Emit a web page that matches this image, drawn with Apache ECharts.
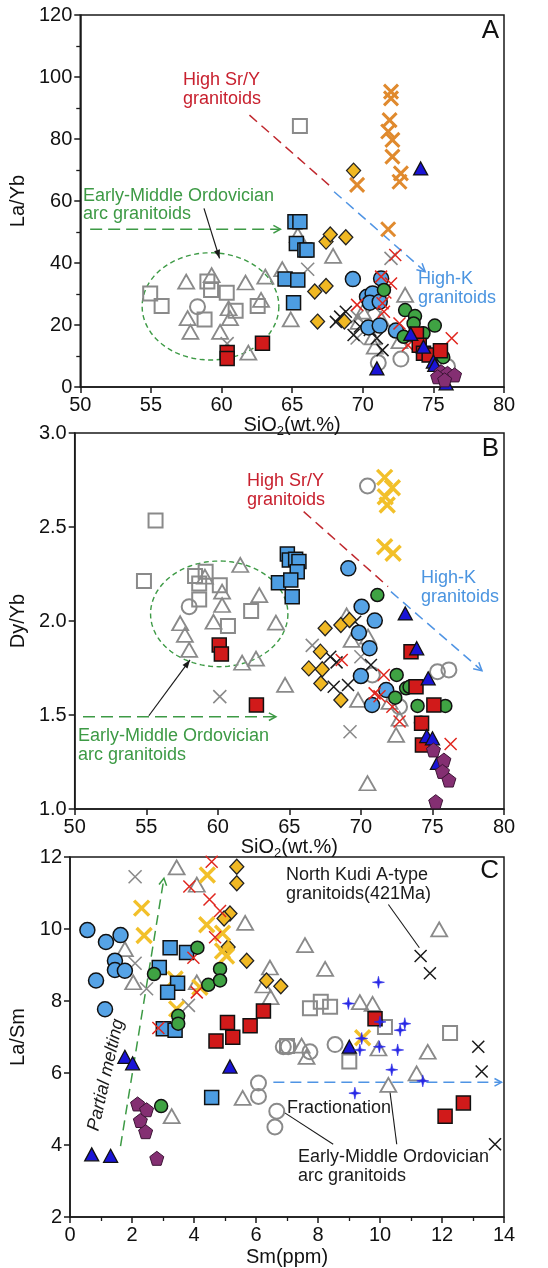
<!DOCTYPE html>
<html><head><meta charset="utf-8">
<script src="https://cdn.jsdelivr.net/npm/echarts@6/dist/echarts.min.js"></script>
<style>html,body{margin:0;padding:0;background:#fff}#c{width:548px;height:1268px}</style>
</head><body><div id="c"></div>
<script>
// ---------- Panel A : SiO2 vs La/Yb ----------
const A_grayTri = [[57.5,34],[59.3,36.1],[57.6,22.2],[57.8,17.8],[59.9,17.8],[60.5,25.4],[60.6,22.2],[61.7,33.7],[63.1,35.6],[62.8,28.1],[61.9,11.1],[64.3,38],[64.9,21.8],[65.4,49],[67.9,42.3],[70.0,24.3],[69.7,21],[70.85,13],[72.6,14.8],[73.0,29.7],[71.3,22],[70.7,16]];
const A_graySq = [[54.95,30.2],[55.76,26.1],[59.0,34.0],[59.26,31.3],[60.37,30.4],[58.8,21.8],[61.0,24.6],[62.56,26.1],[65.55,84.2]];
const A_grayCir = [[58.3,25.9],[71.1,7.8],[72.7,9.0],[76.0,6.6]];
const A_grayX = [[66.1,38],[72.0,41.5],[69.6,22.7],[60.4,14],[70.8,26],[69.6,15.8]];
const A_blackX = [[68.1,21],[68.4,22.7],[68.8,24.3],[69.35,16.8],[69.8,19.5],[71,15.7],[71.4,11.9],[70.5,18.4]];
const A_redX = [[72.3,42.6],[71.3,35.6],[72.0,33.4],[71.4,27],[71.5,24.3],[69.6,26.5],[72.6,20.5],[73.2,13.5],[76.3,15.7],[71.6,30.5]];
const A_orangeX = [[72.0,95.3],[72.0,93.1],[71.9,86.1],[71.8,82.4],[72.1,79.7],[72.1,74.3],[72.7,68.9],[72.6,66.2],[69.6,65.2],[71.8,50.9]];
const A_diamond = [[69.35,69.8],[67.4,46.9],[67.7,49.2],[68.8,48.3],[66.6,30.8],[67.4,32.6],[66.8,21.1],[68.7,21.1]];
const A_blueSq = [[65.2,53.3],[65.55,53.3],[65.3,46.3],[65.9,44.2],[66.05,44.2],[64.5,34.8],[65.4,34.5],[65.1,27.2]];
const A_blueCir = [[69.3,34.8],[71.3,35],[70.3,29.1],[70.7,30.2],[70.5,27.2],[71.2,27.5],[70.4,19.2],[71.2,19.8],[72.35,18.2]];
const A_greenCir = [[71.5,31.3],[73.0,24.8],[73.7,22.9],[73.6,20.5],[72.9,16.2],[74.3,17.3],[75.1,19.8],[75.7,9.6]];
const A_redSq = [[60.4,11.1],[60.4,9.2],[62.9,14.1],[73.8,17.1],[74.0,13.5],[74.3,10.9],[74.7,10.3],[75.5,11.7]];
const A_blueTri = [[74.1,70.5],[71.0,6],[73.4,17.1],[74.3,13],[75.0,8.2],[75.1,7.1],[75.9,1.2]];
const A_pent = [[75.55,4.9],[76.0,4.4],[75.3,3.3],[76.5,3.9],[75.8,2.3]];
// annotation geometry (data units): [x1,y1,x2,y2] / ellipse [cx,cy,rx,ry]
const A_srLine = [[61.98,87.7,67.74,64.6]];
const A_kLine = [[67.97,63.0,74.42,37.2]];
const A_greenArrow = [[50.7,50.9,64.17,50.9]];
const A_blackArrow = [[58.76,57.6,59.86,41.5]];
const A_ellipse = [[59.22,26,4.84,17.3]];

// ---------- Panel B : SiO2 vs Dy/Yb ----------
const B_grayTri = [[59.1,2.236],[61.57,2.298],[60.3,2.156],[60.3,2.085],[62.9,2.138],[57.37,1.988],[57.7,1.926],[58.0,1.846],[59.7,1.996],[61.7,1.778],[62.67,1.8],[64.06,1.991],[64.7,1.66],[69.0,2.03],[70.5,1.917],[69.35,1.9],[69.8,1.58],[72.46,1.394],[72.7,1.48],[70.46,1.137],[72.0,1.57]];
const B_graySq = [[54.84,2.213],[55.65,2.534],[58.41,2.239],[59.15,2.262],[58.7,2.2],[60.14,2.19],[58.7,2.115],[62.33,2.053],[60.71,1.973]];
const B_grayCir = [[58.0,2.076],[70.46,2.718],[70.8,1.713],[72.7,1.544],[75.35,1.73],[76.15,1.74]];
const B_grayX = [[66.6,1.87],[60.14,1.598],[69.24,1.411],[70.0,1.81]];
const B_blackX = [[69.6,1.996],[67.86,1.81],[70.7,1.766],[68.1,1.65],[69.1,1.66],[68.3,1.78]];
const B_redX = [[68.66,1.793],[71.6,1.713],[70.96,1.615],[71.3,1.6],[72.2,1.544],[72.7,1.465],[76.27,1.346]];
const B_yellowX = [[71.66,2.764],[72.2,2.709],[71.7,2.661],[71.84,2.617],[71.66,2.395],[72.25,2.36]];
const B_diamond = [[67.5,1.961],[68.6,1.979],[69.2,2.005],[67.17,1.837],[66.36,1.748],[67.3,1.743],[67.2,1.668],[68.6,1.58]];
const B_blueSq = [[64.86,2.356],[65.0,2.324],[65.44,2.328],[65.67,2.316],[65.55,2.262],[64.24,2.204],[65.1,2.218],[65.2,2.129]];
const B_blueCir = [[69.12,2.28],[70.05,2.076],[69.86,1.938],[70.6,1.855],[70.0,1.707],[70.97,2.002],[71.77,1.633],[70.78,1.553]];
const B_greenCir = [[71.15,2.138],[72.5,1.713],[73.16,1.642],[73.4,1.65],[72.4,1.592],[73.96,1.548],[74.2,1.459],[75.9,1.548]];
const B_redSq = [[60.1,1.872],[60.25,1.824],[62.7,1.553],[73.5,1.837],[73.85,1.65],[75.1,1.553],[74.24,1.456],[74.3,1.34]];
const B_blueTri = [[73.1,2.04],[73.9,1.855],[74.7,1.695],[74.6,1.388],[75.0,1.376],[75.35,1.246]];
const B_pent = [[75.07,1.314],[75.8,1.26],[75.7,1.2],[76.15,1.154],[75.23,1.039]];
const B_srLine = [[66.0,2.582,71.9,2.183]];
const B_kLine = [[72.1,2.156,78.46,1.736]];
const B_greenArrow = [[50.58,1.491,64.06,1.491]];
const B_blackArrow = [[55.18,1.496,58.06,1.793]];
const B_ellipse = [[60.1,2.038,4.8,0.281]];

// ---------- Panel C : Sm vs La/Sm ----------
const C_grayTri = [[3.44,11.71],[4.09,11.23],[1.77,9.44],[2.04,8.52],[4.09,8.52],[5.65,10.17],[7.58,9.55],[8.23,8.89],[6.45,8.93],[6.24,8.43],[6.47,8.11],[9.35,7.97],[9.76,7.92],[11.91,9.99],[7.47,6.76],[7.63,6.45],[5.57,5.31],[3.28,4.8],[9.95,6.68],[11.18,5.99],[11.54,6.59],[10.27,5.67]];
const C_graySq = [[7.74,7.8],[8.09,7.98],[8.39,7.84],[10.16,7.28],[12.26,7.11],[7.0,6.75],[9.01,6.32]];
const C_grayCir = [[6.88,6.73],[7.04,6.73],[7.74,6.59],[8.55,6.79],[6.08,5.72],[6.08,5.35],[6.67,4.94],[6.61,4.5]];
const C_grayX = [[2.1,11.45],[2.1,9.05],[2.47,8.34],[3.82,7.88]];
const C_blackX = [[11.31,9.25],[11.61,8.77],[13.17,6.73],[13.28,6.04],[13.71,4.02]];
const C_redX = [[4.57,11.87],[3.85,11.18],[4.5,10.82],[4.84,10.5],[4.68,9.77],[3.98,9.2],[4.09,8.24],[2.85,7.25]];
const C_yellowX = [[2.31,10.58],[2.39,9.82],[4.43,11.5],[4.41,10.12],[4.92,9.88],[4.92,9.39],[5.05,9.25],[3.39,8.61],[4.19,8.38],[3.44,7.78],[9.44,6.98]];
const C_diamond = [[5.38,11.73],[5.38,11.27],[5.16,10.43],[4.97,10.29],[5.1,9.5],[5.7,9.12],[6.34,8.57],[6.8,8.41]];
const C_blueSq = [[3.23,9.48],[3.76,9.35],[2.88,8.93],[3.47,8.49],[3.15,8.24],[3.01,7.23],[3.39,7.19],[4.57,5.32]];
const C_blueCir = [[0.56,9.97],[1.16,9.64],[1.63,9.83],[1.45,9.12],[1.45,8.86],[1.77,8.84],[0.84,8.57],[1.13,7.77]];
const C_greenCir = [[4.11,9.48],[2.71,8.75],[4.46,8.45],[4.84,8.89],[4.84,8.57],[3.49,7.59],[3.49,7.37],[2.94,5.08]];
const C_redSq = [[4.71,6.89],[5.08,7.4],[5.25,6.99],[5.81,7.31],[6.24,7.72],[9.84,7.51],[12.1,4.8],[12.69,5.17]];
const C_blueTri = [[9.01,6.73],[1.77,6.45],[2.02,6.27],[5.16,6.18],[0.7,3.74],[1.31,3.7]];
const C_pent = [[2.18,5.14],[2.47,4.98],[2.27,4.68],[2.44,4.37],[2.8,3.63]];
const C_blueStar = [[8.98,7.93],[9.95,8.52],[10.0,7.42],[10.65,7.19],[10.8,7.37],[9.41,6.96],[9.35,6.64],[9.98,6.73],[10.57,6.64],[10.38,6.09],[11.38,5.78],[9.19,5.44]];
const C_greenArrow = [[1.63,3.97,3.03,11.41]];
const C_blueArrow = [[6.56,5.74,13.92,5.74]];
const C_blackLines = [[10.27,10.68,11.27,9.48],[6.88,4.92,8.49,4.02],[10.32,5.49,10.54,4.02]];

// tick settings
const A_xTicks = {min:50, max:80, interval:5};
const A_yTicks = {min:0, max:120, interval:20};
const B_yTicks = {min:1, max:3, interval:0.5};
const C_xTicks = {min:0, max:14, interval:2};
const C_yTicks = {min:2, max:12, interval:2};

// ---------- styles ----------
const FONT = '"Liberation Sans", Arial, sans-serif';
const XPATH = 'path://M0,0L10,10M10,0L0,10';
const PENT = 'path://M5,0L10,3.63L8.09,9.51L1.91,9.51L0,3.63Z';
const STAR = 'path://M5,0L5.9,4.1L10,5L5.9,5.9L5,10L4.1,5.9L0,5L4.1,4.1Z';
const CLR = {red:'#c8202e', green:'#3d9a45', blue:'#4a94e0', gray:'#8a8a8a'};
const SYM = {
  graySq:  {symbol:'rect', size:14, color:'rgba(0,0,0,0)', border:CLR.gray, bw:2},
  grayTri: {symbol:'triangle', size:[16,14], color:'rgba(0,0,0,0)', border:CLR.gray, bw:1.8},
  grayCir: {symbol:'circle', size:15, color:'rgba(0,0,0,0)', border:CLR.gray, bw:2},
  grayX:   {symbol:XPATH, size:13, color:'rgba(0,0,0,0)', border:CLR.gray, bw:1.6},
  blackX:  {symbol:XPATH, size:12, color:'rgba(0,0,0,0)', border:'#1a1a1a', bw:1.5},
  redX:    {symbol:XPATH, size:12, color:'rgba(0,0,0,0)', border:'#e0261e', bw:1.5},
  orangeX: {symbol:XPATH, size:14, color:'rgba(0,0,0,0)', border:'#e08a2e', bw:3},
  yellowX: {symbol:XPATH, size:15, color:'rgba(0,0,0,0)', border:'#f2c02a', bw:3.4},
  diamond: {symbol:'diamond', size:[14,15], color:'#f0b823', border:'#222', bw:1.3},
  blueSq:  {symbol:'rect', size:14, color:'#4d9de2', border:'#111', bw:1.5},
  blueCir: {symbol:'circle', size:15, color:'#56a3e6', border:'#111', bw:1.5},
  greenCir:{symbol:'circle', size:13, color:'#3fa343', border:'#111', bw:1.5},
  redSq:   {symbol:'rect', size:14, color:'#d11a1a', border:'#111', bw:1.5},
  blueTri: {symbol:'triangle', size:[14,13], color:'#1a14d6', border:'#111', bw:1.3},
  pent:    {symbol:PENT, size:14, color:'#842f72', border:'#3c1535', bw:1},
  blueStar:{symbol:STAR, size:12, color:'#2828e6', border:'#2828e6', bw:0.6}
};

function sc(g, data, key){
  const s = SYM[key];
  return {type:'scatter', xAxisIndex:g, yAxisIndex:g, data:data, symbol:s.symbol, symbolSize:s.size,
    itemStyle:{color:s.color, borderColor:s.border, borderWidth:s.bw, opacity:1},
    silent:true, emphasis:{disabled:true}, z:3, animation:false};
}
function lineSeries(g, data, o){
  return {type:'custom', xAxisIndex:g, yAxisIndex:g, data:data, silent:true, z:2, animation:false,
    renderItem:function(params, api){
      const a = api.coord([api.value(0), api.value(1)]);
      const b = api.coord([api.value(2), api.value(3)]);
      const ch = [{type:'line', shape:{x1:a[0],y1:a[1],x2:b[0],y2:b[1]},
        style:{stroke:o.color, lineWidth:o.width, lineDash:o.dash||null, fill:'none'}}];
      if (o.arrow){
        const ang = Math.atan2(b[1]-a[1], b[0]-a[0]);
        const L = o.head||9, W = o.open ? 0.5 : 0.35;
        const p1 = [b[0]-L*Math.cos(ang-W), b[1]-L*Math.sin(ang-W)];
        const p2 = [b[0]-L*Math.cos(ang+W), b[1]-L*Math.sin(ang+W)];
        if (o.open) ch.push({type:'polyline', shape:{points:[p1,b,p2]}, style:{stroke:o.color, lineWidth:o.width, fill:'none'}});
        else ch.push({type:'polygon', shape:{points:[p1,b,p2]}, style:{fill:o.color, stroke:'none'}});
      }
      return {type:'group', children:ch};
    }};
}
function ellipseSeries(g, data){
  return {type:'custom', xAxisIndex:g, yAxisIndex:g, data:data, silent:true, z:2, animation:false,
    renderItem:function(params, api){
      const c = api.coord([api.value(0), api.value(1)]);
      const s = api.size([api.value(2)*2, api.value(3)*2]);
      const rx = s[0]/2, ry = s[1]/2, pts = [];
      for (let i=0;i<=96;i++){ const t = i/96*Math.PI*2; pts.push([c[0]+rx*Math.cos(t), c[1]+ry*Math.sin(t)]); }
      return {type:'polyline', shape:{points:pts}, style:{stroke:CLR.green, lineWidth:1.4, lineDash:[5,3.5], fill:'none'}};
    }};
}

const axisCommon = {
  type:'value',
  axisLine:{show:true, onZero:false, lineStyle:{color:'#1a1a1a', width:1.5}},
  axisTick:{show:true, length:6, lineStyle:{color:'#1a1a1a', width:1.5}},
  axisLabel:{color:'#111', fontSize:20, fontFamily:FONT, margin:8},
  splitLine:{show:false},
  nameLocation:'middle',
  nameTextStyle:{color:'#111', fontSize:20, fontFamily:FONT}
};
const siName = '{a|SiO}{s|2}{a|(wt.%)}';
const siStyle = {color:'#111', fontFamily:FONT, rich:{a:{fontSize:20, fontFamily:FONT, color:'#111', lineHeight:24}, s:{fontSize:13, fontFamily:FONT, color:'#111', lineHeight:13, verticalAlign:'bottom'}}};

function ax(extra){ return Object.assign({}, axisCommon, extra); }

const xAxis = [
  ax(Object.assign({gridIndex:0, name:siName, nameGap:26, nameTextStyle:siStyle}, A_xTicks)),
  ax(Object.assign({gridIndex:1, name:siName, nameGap:26, nameTextStyle:siStyle}, A_xTicks)),
  ax(Object.assign({gridIndex:2, name:'Sm(ppm)', nameGap:30, minorTick:{show:true, splitNumber:2, length:4, lineStyle:{color:'#1a1a1a', width:1.3}}, minorSplitLine:{show:false}}, C_xTicks))
];
const yAxis = [
  ax(Object.assign({gridIndex:0, name:'La/Yb', nameGap:29, minorTick:{show:true, splitNumber:2, length:4, lineStyle:{color:'#1a1a1a', width:1.3}}, minorSplitLine:{show:false}}, A_yTicks)),
  ax(Object.assign({gridIndex:1, name:'Dy/Yb', nameGap:30, axisLabel:Object.assign({}, axisCommon.axisLabel, {formatter:v=>v.toFixed(1)})}, B_yTicks)),
  ax(Object.assign({gridIndex:2, name:'La/Sm', nameGap:42}, C_yTicks))
];

const grid = [
  {left:70, top:15, width:434, height:372},
  {left:70, top:433, width:434, height:376},
  {left:70, top:857, width:434, height:363}
].map(g => Object.assign({show:true, borderColor:'#1a1a1a', borderWidth:1.5, backgroundColor:'rgba(0,0,0,0)', containLabel:false}, g));

const order = ['grayTri','graySq','grayCir','grayX','blackX','diamond','orangeX','yellowX','blueSq','blueCir','redX','greenCir','redSq','blueTri','pent','blueStar'];
const panels = [
  {grayTri:A_grayTri, graySq:A_graySq, grayCir:A_grayCir, grayX:A_grayX, blackX:A_blackX, redX:A_redX, orangeX:A_orangeX, diamond:A_diamond, blueSq:A_blueSq, blueCir:A_blueCir, greenCir:A_greenCir, redSq:A_redSq, blueTri:A_blueTri, pent:A_pent},
  {grayTri:B_grayTri, graySq:B_graySq, grayCir:B_grayCir, grayX:B_grayX, blackX:B_blackX, redX:B_redX, yellowX:B_yellowX, diamond:B_diamond, blueSq:B_blueSq, blueCir:B_blueCir, greenCir:B_greenCir, redSq:B_redSq, blueTri:B_blueTri, pent:B_pent},
  {grayTri:C_grayTri, graySq:C_graySq, grayCir:C_grayCir, grayX:C_grayX, blackX:C_blackX, redX:C_redX, yellowX:C_yellowX, diamond:C_diamond, blueSq:C_blueSq, blueCir:C_blueCir, greenCir:C_greenCir, redSq:C_redSq, blueTri:C_blueTri, pent:C_pent, blueStar:C_blueStar}
];

const series = [];
// annotation lines
series.push(ellipseSeries(0, A_ellipse));
series.push(lineSeries(0, A_srLine, {color:'#c0282e', width:1.5, dash:[10,6]}));
series.push(lineSeries(0, A_kLine, {color:'#4f94e4', width:1.5, dash:[10,6], arrow:true, open:true, head:9}));
series.push(lineSeries(0, A_greenArrow, {color:CLR.green, width:1.5, dash:[12,6], arrow:true, open:true, head:8}));
series.push(lineSeries(0, A_blackArrow, {color:'#1a1a1a', width:1.2, arrow:true, head:9}));
series.push(ellipseSeries(1, B_ellipse));
series.push(lineSeries(1, B_srLine, {color:'#c0282e', width:1.5, dash:[10,6]}));
series.push(lineSeries(1, B_kLine, {color:'#4f94e4', width:1.5, dash:[10,6], arrow:true, open:true, head:9}));
series.push(lineSeries(1, B_greenArrow, {color:CLR.green, width:1.5, dash:[12,6], arrow:true, open:true, head:8}));
series.push(lineSeries(1, B_blackArrow, {color:'#1a1a1a', width:1.2, arrow:true, head:9}));
series.push(lineSeries(2, C_greenArrow, {color:CLR.green, width:1.5, dash:[10,6], arrow:true, open:true, head:8}));
series.push(lineSeries(2, C_blueArrow, {color:'#4f94e4', width:1.5, dash:[11,6], arrow:true, open:true, head:8}));
series.push(lineSeries(2, C_blackLines, {color:'#1a1a1a', width:1.1}));
panels.forEach((p, g) => { order.forEach(k => { if (p[k]) series.push(sc(g, p[k], k)); }); });

function txt(x, y, text, color, opt){
  opt = opt || {};
  return {type:'text', x:x, y:y, rotation:opt.rot||0, z:50,
    style:{text:text, fill:color, font:(opt.italic?'italic ':'')+(opt.size||18)+'px '+FONT,
      textAlign:opt.align||'left', textVerticalAlign:'middle'}};
}
const graphic = [
  txt(183,80,'High Sr/Y',CLR.red), txt(183,99,'granitoids',CLR.red),
  txt(83,196,'Early-Middle Ordovician',CLR.green), txt(83,214,'arc granitoids',CLR.green),
  txt(418,279,'High-K',CLR.blue), txt(418,298,'granitoids',CLR.blue),
  txt(499,31,'A','#111',{size:26, align:'right'}),
  txt(247,481,'High Sr/Y',CLR.red), txt(247,500,'granitoids',CLR.red),
  txt(421,578,'High-K',CLR.blue), txt(421,597,'granitoids',CLR.blue),
  txt(78,736,'Early-Middle Ordovician',CLR.green), txt(78,755,'arc granitoids',CLR.green),
  txt(499,449,'B','#111',{size:26, align:'right'}),
  txt(286,875,'North Kudi A-type','#1a1a1a'), txt(286,894,'granitoids(421Ma)','#1a1a1a'),
  txt(287,1108,'Fractionation','#1a1a1a'),
  txt(298,1157,'Early-Middle Ordovician','#1a1a1a'), txt(298,1176,'arc granitoids','#1a1a1a'),
  txt(106,1075,'Partial melting','#1a1a1a',{italic:true, align:'center', rot:77.3*Math.PI/180}),
  txt(499,871,'C','#111',{size:26, align:'right'})
];

const chart = echarts.init(document.getElementById('c'), null, {renderer:'canvas'});
chart.setOption({animation:false, backgroundColor:'#fff', grid:grid, xAxis:xAxis, yAxis:yAxis, series:series, graphic:graphic});
</script></body></html>
